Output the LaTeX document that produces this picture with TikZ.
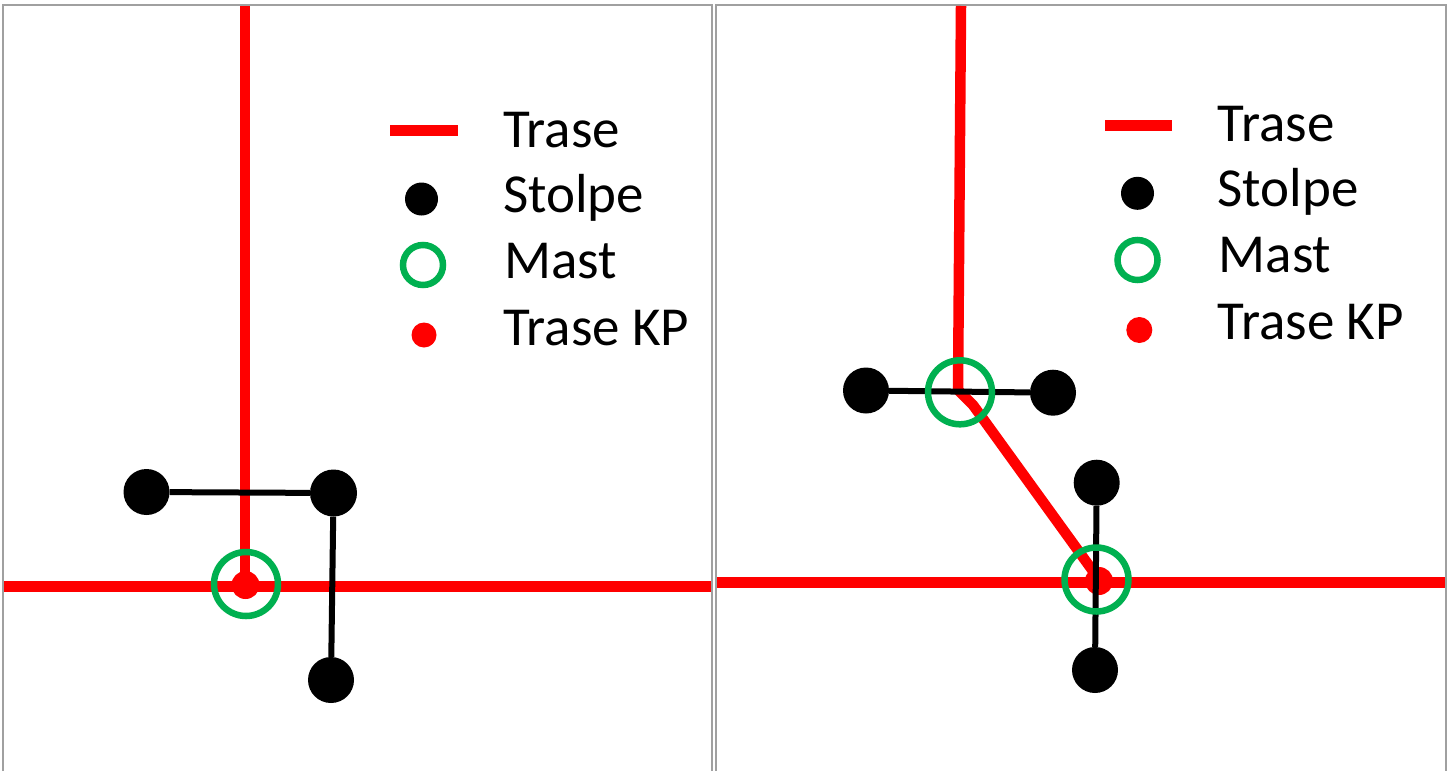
\documentclass[tikz,border=0pt]{standalone}
\usepackage{fontspec}
\setmainfont{Carlito}
\definecolor{frameg}{HTML}{A0A0A0}
\definecolor{mastg}{HTML}{00B050}
\tikzset{
  x=1pt,y=-1pt,
  frameline/.style={draw=frameg,line width=2pt},
  trase/.style={draw=red,line width=10.5pt},
  tie/.style={draw=black,line width=6pt},
  stolpe/.style={circle,fill=black,inner sep=0pt,minimum size=#1},
  stolpe/.default=46pt,
  mast/.style={circle,draw=mastg,line width=6.5pt,inner sep=0pt,minimum size=#1},
  mast/.default=64pt,
  kp/.style={circle,fill=red,inner sep=0pt,minimum size=#1},
  legendtext/.style={anchor=base west,inner sep=0pt,font=\fontsize{55}{55}\selectfont}
}
\begin{document}
\begin{tikzpicture}
\useasboundingbox (0,0) rectangle (1453,771);
\fill[white] (0,0) rectangle (1453,771);
% frames
\coordinate (f1a) at (3,771); \coordinate (f1b) at (3,5); \coordinate (f1c) at (712,5); \coordinate (f1d) at (712,771);
\coordinate (f2a) at (716,771); \coordinate (f2b) at (716,5); \coordinate (f2c) at (1446,5); \coordinate (f2d) at (1446,771);
\draw[frameline] (f1a) -- (f1b) -- (f1c) -- (f1d);
\draw[frameline] (f2a) -- (f2b) -- (f2c) -- (f2d);
% left panel
\coordinate (lh1) at (4,586.5); \coordinate (lh2) at (711,586.5);
\coordinate (lv1) at (245,6); \coordinate (lv2) at (245,586);
\draw[trase] (lh1) -- (lh2);
\draw[trase] (lv1) -- (lv2);
\node[stolpe] (ls1) at (146.5,492) {};
\node[stolpe=47pt] (ls2) at (333.5,493) {};
\node[stolpe] (ls3) at (331,680) {};
\draw[tie] (ls1) -- (ls2);
\draw[tie] (ls2) -- (ls3);
\node[kp=28pt] (lkp) at (245.5,585) {};
\node[mast] (lm) at (246,584) {};
% left legend
\coordinate (ll1) at (390,130.5); \coordinate (ll2) at (457.5,130.5);
\draw[trase] (ll1) -- (ll2);
\node[stolpe=33pt] (lls) at (421.5,199) {};
\node[mast=40pt] (llm) at (423,265) {};
\node[kp=25pt] (llk) at (424,335) {};
\node[legendtext] (llt1) at (503,147.5) {Trase};
\node[legendtext] (llt2) at (503,212.5) {Stolpe};
\node[legendtext] (llt3) at (504,278) {Mast};
\node[legendtext] (llt4) at (503,345.5) {Trase KP};
% right panel
\coordinate (rh1) at (717,582.3); \coordinate (rh2) at (1445,582.3);
\coordinate (rv1) at (961,6); \coordinate (rv2) at (958,390); \coordinate (rk) at (973,405); \coordinate (rd) at (1098,578);
\draw[trase] (rh1) -- (rh2);
\draw[trase,line join=round] (rv1) -- (rv2) -- (rk) -- (rd);
\node[stolpe] (rs1) at (866,390.5) {};
\node[stolpe] (rs2) at (1053,392.7) {};
\node[stolpe] (rs3) at (1096.7,482.7) {};
\node[stolpe] (rs4) at (1095,670) {};
\node[kp=28pt] (rkp) at (1099,581) {};
\draw[tie] (rs1) -- (rs2);
\draw[tie] (rs3) -- (rs4);
\node[mast] (rm1) at (960,392.3) {};
\node[mast] (rm2) at (1096.5,579.5) {};
% right legend
\coordinate (rl1) at (1105,125.7); \coordinate (rl2) at (1172,125.7);
\draw[trase] (rl1) -- (rl2);
\node[stolpe=33pt] (rls) at (1137.5,193.3) {};
\node[mast=40pt] (rlm) at (1137.5,260) {};
\node[kp=26pt] (rlk) at (1139.3,330) {};
\node[legendtext] (rlt1) at (1217.5,141.5) {Trase};
\node[legendtext] (rlt2) at (1217.5,206.5) {Stolpe};
\node[legendtext] (rlt3) at (1218.5,272) {Mast};
\node[legendtext] (rlt4) at (1217.5,339) {Trase KP};
\end{tikzpicture}
\end{document}
